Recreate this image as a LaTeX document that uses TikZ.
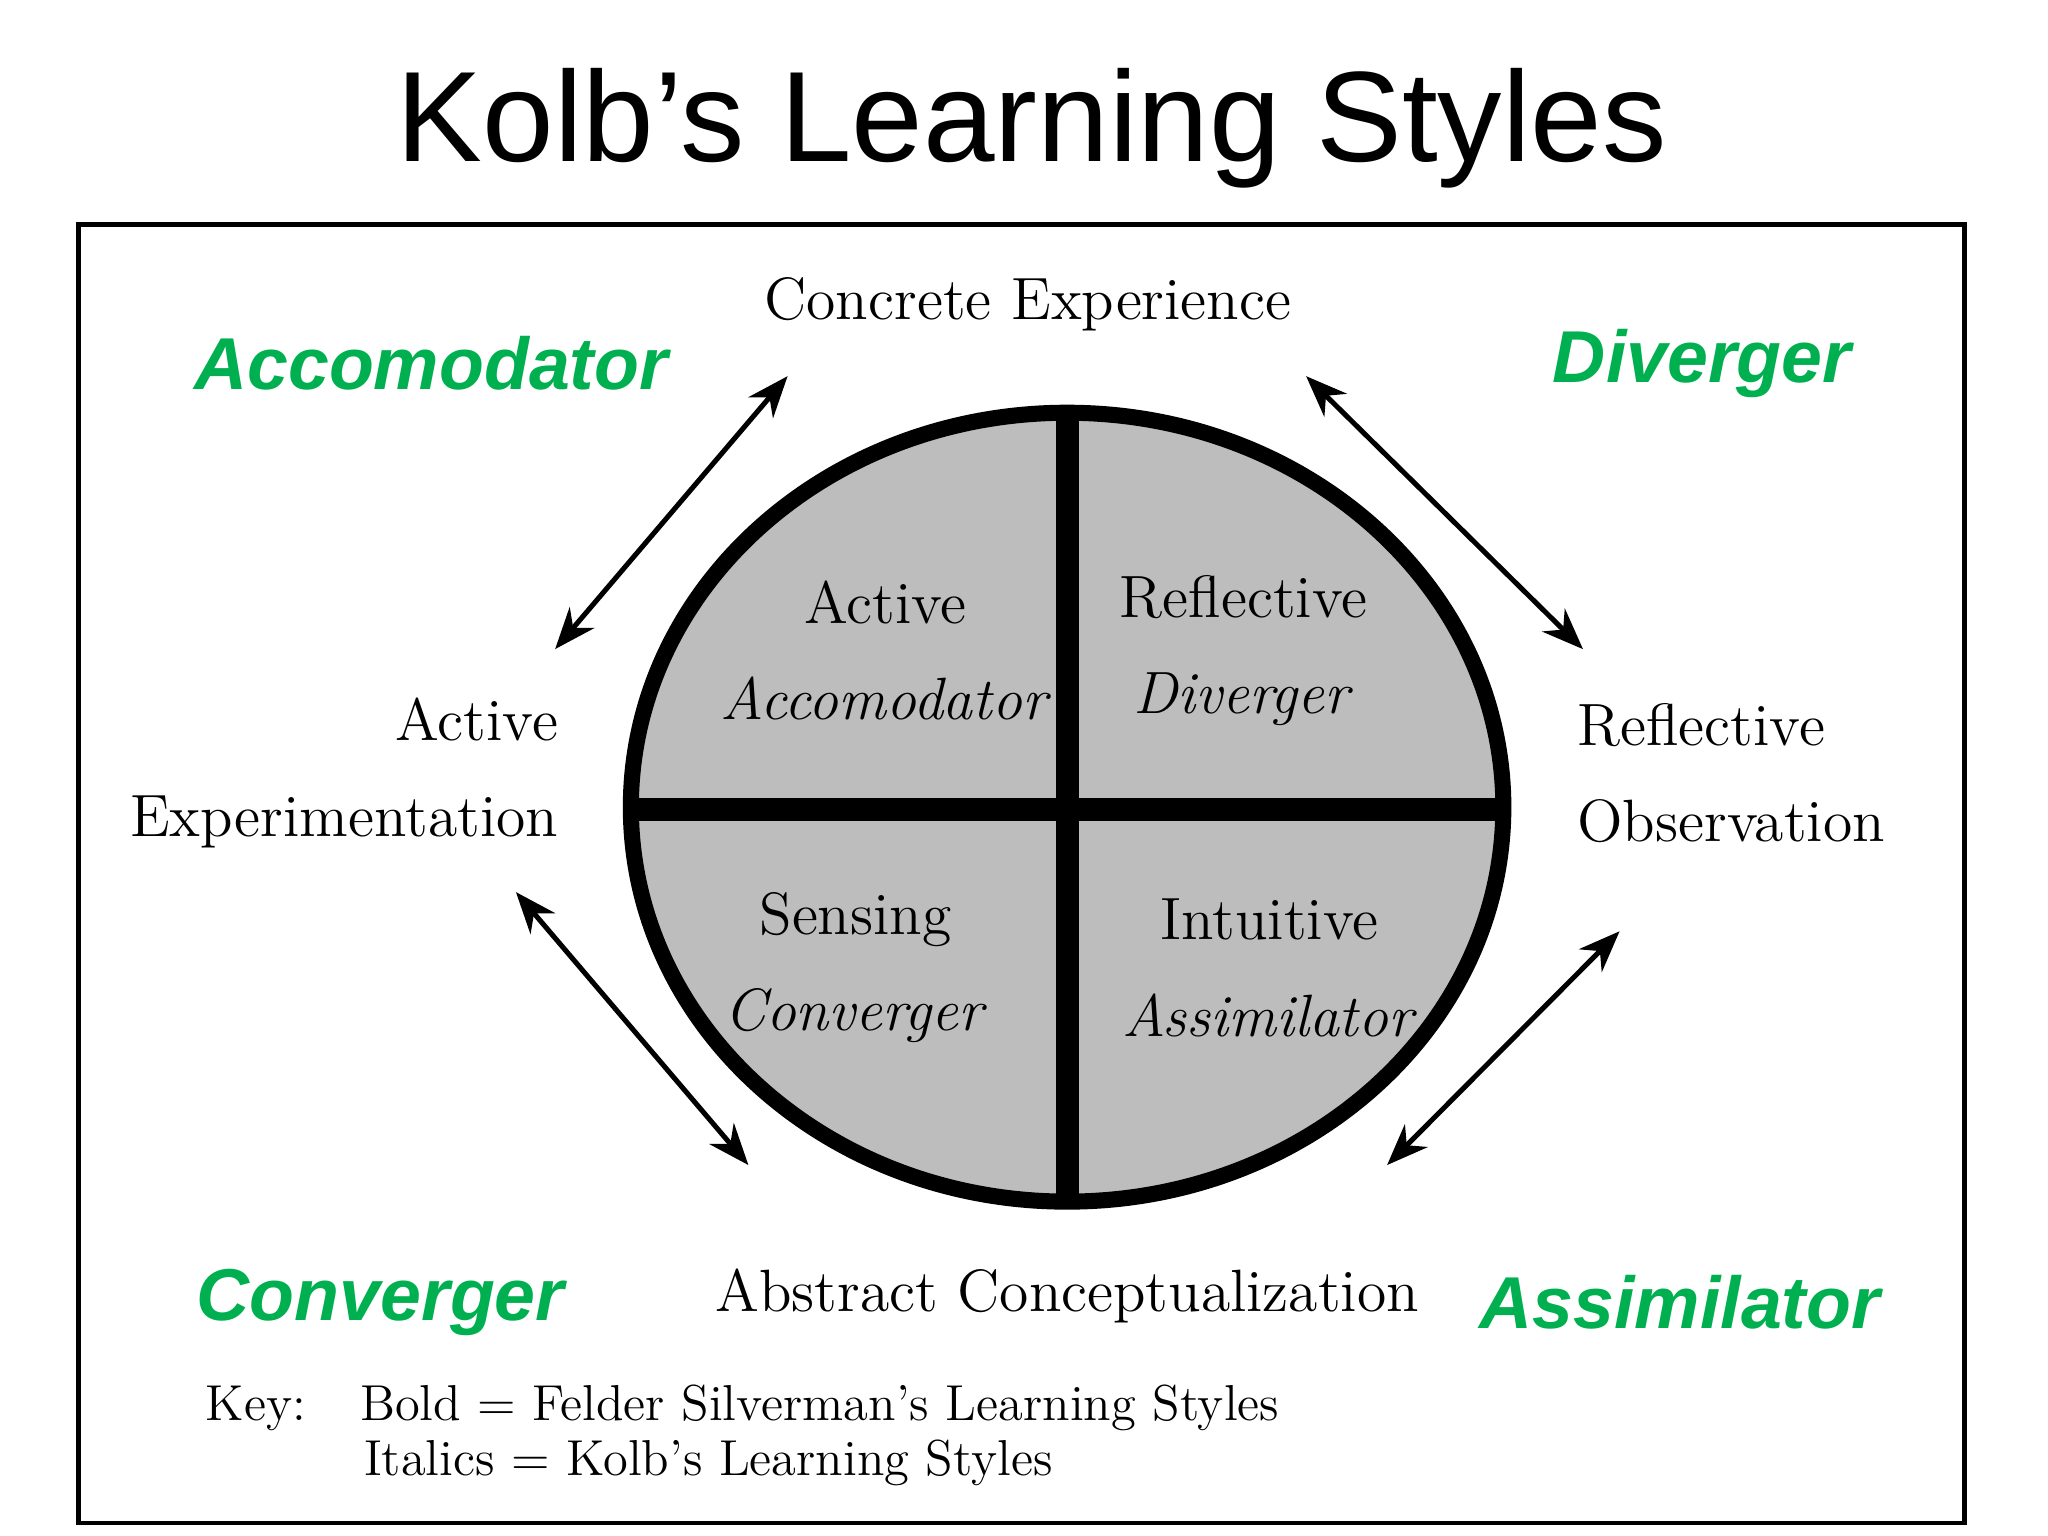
\documentclass[tikz,border=0pt]{standalone}
\usepackage{fontspec}
\newfontfamily\sansf{Liberation Sans}
\usetikzlibrary{arrows.meta}
\definecolor{kgreen}{HTML}{00B050}
\definecolor{kgray}{HTML}{BDBDBD}
\tikzset{
  serif/.style={font=\fontsize{13pt}{15pt}\selectfont, inner sep=0pt},
  quad/.style={font=\fontsize{13pt}{15pt}\selectfont, align=center, inner sep=0pt},
  style label/.style={font=\sansf\bfseries\itshape\fontsize{16pt}{18pt}\selectfont, text=kgreen, inner sep=0pt},
  dbl/.style={{Stealth[length=9pt,width=7pt]}-{Stealth[length=9pt,width=7pt]}, line width=1.1pt}
}
\begin{document}
\begin{tikzpicture}[x=0.01cm,y=-0.01cm]
\useasboundingbox (0,0) rectangle (1568,1176);
\node[font=\sansf\fontsize{28pt}{32pt}\selectfont] (title) at (790,98) {Kolb’s Learning Styles};
\draw[line width=1pt] (60,172) rectangle (1504,1166);
% circle
\fill[kgray] (817,618) ellipse [x radius=334, y radius=302];
\draw[line width=3.5pt] (817,618) ellipse [x radius=334, y radius=302];
\draw[line width=5pt] (817,316) -- (817,920);
\draw[line width=5pt] (483,620) -- (1151,620);
\node[quad] (aa) at (678,498) {Active\\[6pt]\textit{Accomodator}};
\node[quad] (rd) at (952,498) {Reflective\\[6pt]\textit{Diverger}};
\node[quad] (sc) at (655,741) {Sensing\\[6pt]\textit{Converger}};
\node[quad] (ia) at (972,741) {Intuitive\\[6pt]\textit{Assimilator}};
% pole labels
\node[serif] (ce) at (787,233) {Concrete Experience};
\node[serif] (ac) at (817,992) {Abstract Conceptualization};
\node[serif, align=right, anchor=east] (ae) at (428,592) {Active\\[6pt]Experimentation};
\node[serif, align=left, anchor=west] (ro) at (1207,592) {Reflective\\[6pt]Observation};
% arrows
\coordinate (a1s) at (603,288); \coordinate (a1e) at (425,497);
\coordinate (a2s) at (1000,288); \coordinate (a2e) at (1212,497);
\coordinate (a3s) at (395,683); \coordinate (a3e) at (573,892);
\coordinate (a4s) at (1240,713); \coordinate (a4e) at (1062,892);
\draw[dbl] (a1s) -- (a1e);
\draw[dbl] (a2s) -- (a2e);
\draw[dbl] (a3s) -- (a3e);
\draw[dbl] (a4s) -- (a4e);
% green labels
\node[style label, anchor=west] (lacc) at (148,278) {Accomodator};
\node[style label, anchor=east] (ldiv) at (1418,278) {Diverger};
\node[style label, anchor=west] (lcon) at (150,997) {Converger};
\node[style label, anchor=east] (lass) at (1440,997) {Assimilator};
% key
\node[serif, anchor=west, font=\fontsize{11pt}{13pt}\selectfont] (key) at (157,1078) {Key:};
\node[serif, anchor=west, font=\fontsize{11pt}{13pt}\selectfont] (k1) at (275,1078) {Bold = Felder Silverman’s Learning Styles};
\node[serif, anchor=west, font=\fontsize{11pt}{13pt}\selectfont] (k2) at (278,1120) {Italics = Kolb’s Learning Styles};
\end{tikzpicture}
\end{document}
